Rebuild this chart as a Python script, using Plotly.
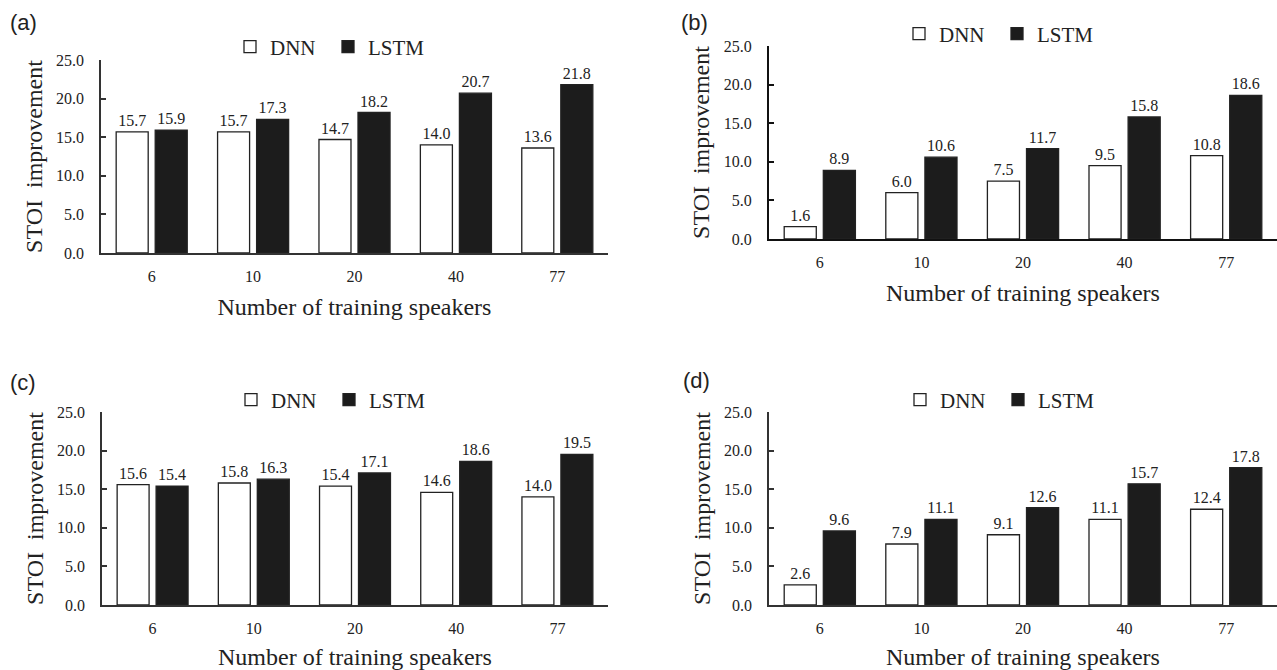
import plotly.graph_objects as go

speakers = ["6", "10", "20", "40", "77"]
dnn_a = [15.7, 15.7, 14.7, 14.0, 13.6]
lstm_a = [15.9, 17.3, 18.2, 20.7, 21.8]
dnn_b = [1.6, 6.0, 7.5, 9.5, 10.8]
lstm_b = [8.9, 10.6, 11.7, 15.8, 18.6]
dnn_c = [15.6, 15.8, 15.4, 14.6, 14.0]
lstm_c = [15.4, 16.3, 17.1, 18.6, 19.5]
dnn_d = [2.6, 7.9, 9.1, 11.1, 12.4]
lstm_d = [9.6, 11.1, 12.6, 15.7, 17.8]
panel_labels = ["(a)", "(b)", "(c)", "(d)"]
y_ticks = [0, 5, 10, 15, 20, 25]

W, H = 1277, 670
SERIF = "Liberation Serif, Times New Roman, serif"

# pixel boxes of plot areas: (left, right, top, bottom)
boxes = [(101, 608, 60, 253), (769, 1277, 46, 239), (102, 608, 412, 605), (769, 1277, 412, 605)]
legend_pos = [(230, 47), (899, 34), (231, 400), (900, 400)]
label_pos = [(8, 23), (679, 22), (8, 382), (681, 380)]

panels = [(dnn_a, lstm_a), (dnn_b, lstm_b), (dnn_c, lstm_c), (dnn_d, lstm_d)]

fig = go.Figure()
layout = dict(
    width=W, height=H, margin=dict(l=0, r=0, t=0, b=0, autoexpand=False),
    paper_bgcolor="white", plot_bgcolor="white",
    bargap=0.23, bargroupgap=0.18, barmode="group",
    font=dict(family=SERIF, color="#222"),
)
annotations = []
for i, (dnn, lstm) in enumerate(panels):
    n = i + 1
    xa = "x" if n == 1 else f"x{n}"
    ya = "y" if n == 1 else f"y{n}"
    lg = "legend" if n == 1 else f"legend{n}"
    fig.add_trace(go.Bar(
        x=speakers, y=dnn, name="DNN", xaxis=xa, yaxis=ya, legend=lg,
        marker=dict(color="white", line=dict(color="#222", width=1.3)),
        texttemplate="%{y:.1f}", textposition="outside", cliponaxis=False,
        textfont=dict(family=SERIF, size=16, color="#222"),
    ))
    fig.add_trace(go.Bar(
        x=speakers, y=lstm, name="LSTM", xaxis=xa, yaxis=ya, legend=lg,
        marker=dict(color="#1c1c1c", line=dict(color="#222", width=1.3)),
        texttemplate="%{y:.1f}", textposition="outside", cliponaxis=False,
        textfont=dict(family=SERIF, size=16, color="#222"),
    ))
    l, r, t, b = boxes[i]
    lw = 2 if n == 2 else 1.5
    lc = "#111" if n == 2 else "#333"
    layout[f"xaxis{'' if n == 1 else n}"] = dict(
        domain=[l / W, r / W], anchor=ya, type="category", automargin=False,
        showline=True, linecolor=lc, linewidth=lw, ticks="", showgrid=False,
        tickfont=dict(family=SERIF, size=16, color="#222"), ticklabelstandoff=8,
        title=dict(text="Number of training speakers", font=dict(family=SERIF, size=24, color="#222"), standoff=14),
    )
    layout[f"yaxis{'' if n == 1 else n}"] = dict(
        domain=[1 - b / H, 1 - t / H], anchor=xa, range=[0, 25], automargin=False,
        tickvals=y_ticks, tickformat=".1f",
        showline=True, linecolor=lc, linewidth=lw, ticks="inside", ticklen=5, tickcolor=lc, tickwidth=lw,
        showgrid=False, zeroline=False,
        tickfont=dict(family=SERIF, size=16, color="#222"), ticklabelstandoff=12,
        title=dict(text="STOI  improvement", font=dict(family=SERIF, size=24, color="#222"), standoff=7),
    )
    lx, ly = legend_pos[i]
    layout[lg] = dict(
        orientation="h", x=lx / W, y=1 - ly / H, xanchor="left", yanchor="middle",
        xref="paper", yref="paper", bgcolor="rgba(0,0,0,0)",
        font=dict(family=SERIF, size=21, color="#222"), entrywidth=53,
        itemclick=False, itemdoubleclick=False,
    )
    px, py = label_pos[i]
    annotations.append(dict(
        text=panel_labels[i], x=px / W, y=1 - py / H, xref="paper", yref="paper",
        xanchor="left", yanchor="middle", showarrow=False,
        font=dict(family="Liberation Sans", size=22, color="#222"),
    ))
layout["annotations"] = annotations
fig.update_layout(**layout)
fig.write_html("out.html")
